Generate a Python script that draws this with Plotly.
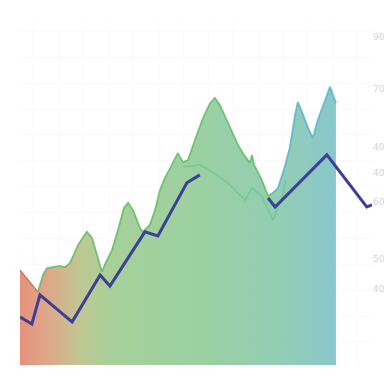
import plotly.graph_objects as go

# Main area series (top outline)
x_main = [0, 5.1, 6.6, 7.7, 10.6, 11.4, 12.9, 14.3, 16.6, 19.1, 20.6, 22.0, 23.4, 24.6, 26.3, 28.0,
          29.7, 30.9, 32.3, 34.3, 35.1, 37.1, 38.6, 40.0, 41.4, 43.4, 45.1, 46.6, 48.0, 50.0, 52.3, 54.3,
          55.7, 57.1, 59.4, 60.9, 62.3, 64.0, 65.7, 66.3, 66.9, 68.0, 69.1, 70.9, 72.3, 73.7, 75.4, 77.1,
          78.6, 79.4, 80.9, 82.3, 83.7, 85.1, 86.9, 88.6, 90.0, 90.3]
y_main = [27.5, 21.2, 26.1, 28.1, 28.4, 28.7, 28.4, 29.6, 34.8, 38.6, 36.8, 31.9, 27.0, 29.9, 33.3, 39.1,
          45.5, 47.0, 44.9, 39.7, 38.6, 40.6, 44.9, 50.7, 54.2, 58.0, 61.4, 58.8, 59.4, 65.2, 71.6, 75.9,
          77.4, 75.4, 70.4, 66.7, 63.8, 60.9, 58.6, 60.9, 58.0, 55.9, 53.6, 49.0, 49.9, 51.3, 56.5, 62.9,
          72.5, 76.2, 72.5, 68.7, 65.8, 71.0, 75.9, 80.6, 76.8, 75.9]

# Secondary (lighter) series
x_second = [46.6, 51.4, 56.3, 60.0, 64.3, 66.3, 69.1, 72.3, 74.9, 76.0]
y_second = [57.4, 58.0, 55.1, 52.2, 47.8, 51.3, 49.0, 42.0, 48.7, 53.6]

# Dark line series
x_line = [0, 3.4, 5.7, 14.9, 22.9, 25.7, 35.7, 39.4, 47.7, 51.4, 60.0, 70.9, 72.9, 87.7, 99.1, 100.6]
y_line = [13.9, 11.9, 20.3, 12.5, 26.1, 22.9, 38.6, 37.4, 52.8, 55.1, None, 48.4, 45.8, 60.9, 45.8, 46.4]

# Right axis tick labels
tick_vals = [95.1, 80.0, 63.2, 55.7, 47.2, 30.7, 22.0]
tick_text = ["90", "70", "40", "40", "60", "50", "40"]

fill_scale = [
    [0.0, "rgba(228,136,112,0.92)"],
    [0.10, "rgba(216,164,128,0.92)"],
    [0.20, "rgba(184,196,138,0.92)"],
    [0.30, "rgba(158,204,144,0.92)"],
    [0.60, "rgba(146,204,156,0.92)"],
    [0.85, "rgba(136,200,176,0.92)"],
    [1.0, "rgba(126,194,200,0.92)"],
]

fig = go.Figure()

fig.add_trace(go.Scatter(
    x=x_main, y=y_main, mode="lines", line=dict(width=0),
    fill="tozeroy", fillgradient=dict(type="horizontal", colorscale=fill_scale),
    hoverinfo="skip"))

# outline segments
fig.add_trace(go.Scatter(x=x_main[0:2], y=y_main[0:2], mode="lines",
                         line=dict(color="#d0705a", width=1.5)))
fig.add_trace(go.Scatter(x=x_main[1:45], y=y_main[1:45], mode="lines",
                         line=dict(color="rgba(96,188,100,0.85)", width=1.8)))
fig.add_trace(go.Scatter(x=x_main[44:], y=y_main[44:], mode="lines",
                         line=dict(color="rgba(88,180,206,0.85)", width=1.8)))

fig.add_trace(go.Scatter(x=x_second, y=y_second, mode="lines",
                         line=dict(color="rgba(120,200,150,0.9)", width=1.8)))

fig.add_trace(go.Scatter(x=x_line, y=y_line, mode="lines", connectgaps=False,
                         line=dict(color="#3d3f96", width=3)))

fig.update_layout(
    width=384, height=384,
    margin=dict(l=20, r=12, t=20, b=19, autoexpand=False),
    paper_bgcolor="white", plot_bgcolor="white",
    showlegend=False,
    xaxis=dict(range=[0, 100.6], showticklabels=False, showgrid=False, zeroline=False,
               showline=False, ticks="", automargin=False,
               minor=dict(showgrid=True, tick0=10.9, dtick=7.14, gridcolor="rgba(0,0,0,0.018)")),
    yaxis=dict(range=[0, 100], side="right", tickvals=tick_vals, ticktext=tick_text,
               tickfont=dict(size=9, color="#cdd5e3", family="DejaVu Sans"),
               showgrid=False, zeroline=False, showline=False, ticks="", automargin=False,
               minor=dict(showgrid=True, tick0=6.7, dtick=7.5, gridcolor="rgba(0,0,0,0.018)")),
)

fig.write_html("out.html")
